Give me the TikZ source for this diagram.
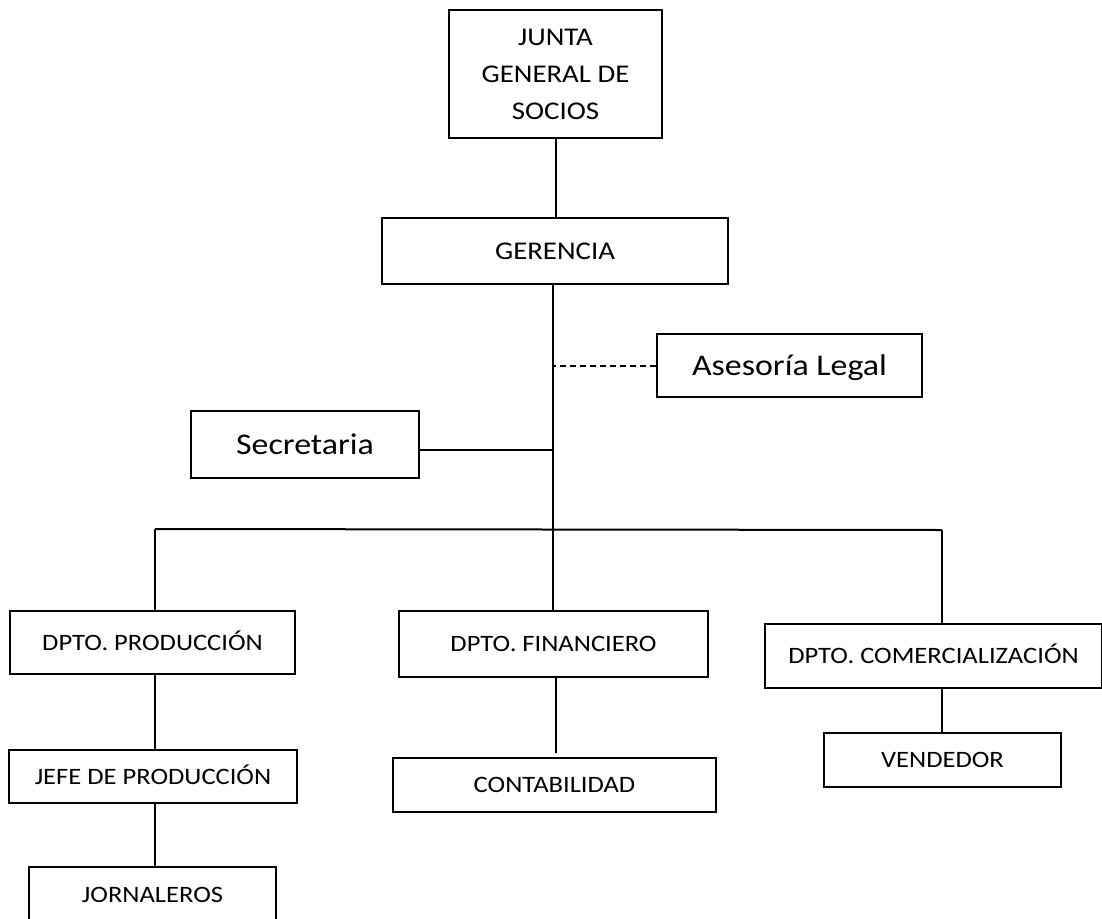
\documentclass[tikz,border=0pt]{standalone}
\usepackage{fontspec}
\setmainfont{Carlito}[FakeStretch=1.13]
\begin{document}
\begin{tikzpicture}[x=1pt,y=-1pt,line width=2pt]
        \tikzstyle{unit}=[rectangle,draw=black,inner sep=0pt,text height=15pt,text depth=0pt,font=\fontsize{23.5}{28}\selectfont]
        \tikzstyle{staff}=[unit,text height=19pt,font=\fontsize{30}{36}\selectfont]
        \tikzstyle{edge}=[draw,line width=2pt]
        \useasboundingbox (0,0) rectangle (1102,918);
        % direccion
        \node [rectangle,draw=black,inner sep=0pt,align=center,minimum width=213pt,minimum height=128pt,font=\fontsize{25.5}{37}\selectfont] (junta) at (555.5,74) {JUNTA\\GENERAL DE\\SOCIOS};
        \node [unit,minimum width=346pt,minimum height=66pt,text height=16.5pt,font=\fontsize{25.5}{30}\selectfont] (gerencia) at (555,251) {GERENCIA};
        \node [staff,minimum width=265pt,minimum height=63pt] (asesoria) at (789.5,365.5) {Asesoría Legal};
        \node [staff,minimum width=228pt,minimum height=67pt] (secretaria) at (305,444.5) {Secretaria};
        % departamentos
        \node [unit,minimum width=285pt,minimum height=63pt] (prod) at (152.5,642.5) {DPTO. PRODUCCIÓN};
        \node [unit,minimum width=309pt,minimum height=66pt] (fin) at (553.5,644) {DPTO. FINANCIERO};
        \node [unit,minimum width=337pt,minimum height=64pt] (com) at (933.5,656) {DPTO. COMERCIALIZACIÓN};
        \node [unit,minimum width=288pt,minimum height=53pt] (jefe) at (153,776.5) {JEFE DE PRODUCCIÓN};
        \node [unit,minimum width=323pt,minimum height=54pt] (contab) at (554.5,785) {CONTABILIDAD};
        \node [unit,minimum width=237pt,minimum height=54pt] (vendedor) at (942.5,760) {VENDEDOR};
        \node [unit,minimum width=247pt,minimum height=56pt] (jornaleros) at (152.5,895) {JORNALEROS};
        \coordinate (barL) at (155,529);
        \coordinate (barM) at (553,529);
        \coordinate (barR) at (942,530);
        % lineas
        \path[edge] (junta.south) -- (junta.south |- gerencia.north);
        \path[edge] (gerencia.south -| barM) -- (barM);
        \path[edge] (barL) -- (barR);
        \path[edge,dashed,dash pattern=on 6pt off 4pt] (asesoria.west) -- (asesoria.west -| barM);
        \path[edge] ([yshift=-5.5pt]secretaria.east) -- ([yshift=-5.5pt]secretaria.east -| barM);
        \path[edge] (barL) -- (barL |- prod.north);
        \path[edge] (barM) -- (barM |- fin.north);
        \path[edge] (barR) -- (barR |- com.north);
        \path[edge] (barL |- prod.south) -- (barL |- jefe.north);
        \path[edge,shorten >=4pt] ([xshift=2.5pt]fin.south) -- ([xshift=2.5pt]fin.south |- contab.north);
        \path[edge] (barR |- com.south) -- (barR |- vendedor.north);
        \path[edge] (barL |- jefe.south) -- (barL |- jornaleros.north);
\end{tikzpicture}
\end{document}
